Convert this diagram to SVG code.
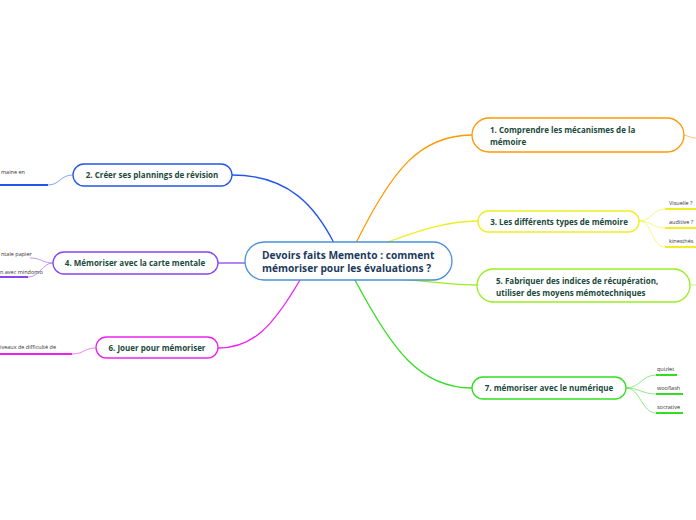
<svg xmlns="http://www.w3.org/2000/svg" width="696" height="520" viewBox="0 0 696 520">
<style>
.bg{fill:#fff}
.node{fill:#fff;stroke-width:1.3}
.t{font-family:"Open Sans","Noto Sans","Liberation Sans",sans-serif;font-weight:700;font-size:8px;fill:#1b4a3c}
.c{font-family:"Open Sans","Noto Sans","Liberation Sans",sans-serif;font-weight:700;font-size:10.2px;fill:#1d3a5c}
.s{font-family:"Open Sans","Noto Sans","Liberation Sans",sans-serif;font-size:5.5px;fill:#333}
.m{fill:none;stroke-width:1.3}
.k{fill:none;stroke-width:1;opacity:.55}
.u{fill:none;stroke-width:2}
</style>
<rect class="bg" width="696" height="520"/>
<g id="connectors">
<path class="m" stroke="#2255ee" d="M334 243 C316 208 290 175 232 175"/>
<path class="m" stroke="#ff9900" d="M356 243 C392 170 420 135 472 135"/>
<path class="m" stroke="#eeee22" d="M385 243 C420 230 448 221 478 221"/>
<path class="m" stroke="#99ee22" d="M400 279 C430 282 455 285 477 285"/>
<path class="m" stroke="#33dd22" d="M355 280 C392 350 420 388 472 388"/>
<path class="m" stroke="#ee22ee" d="M300 280 C272 328 252 348 218 348"/>
<path class="m" stroke="#8844ee" d="M245 263 L218 263"/>
<path class="k" stroke="#ff9900" d="M684 135 C688 136 692 138 696 138"/>
<path class="k" stroke="#99ee22" d="M690 285 L696 285"/>
<path class="k" stroke="#eeee22" d="M639 221 C652 221 652 209 665 209 M639 221 C652 221 652 228 665 228 M639 221 C652 221 652 247 665 247"/>
<path class="u" stroke="#eeee22" d="M665 209 H696 M665 228 H696 M665 247 H696"/>
<path class="k" stroke="#33dd22" d="M626 388 C640 388 642 375 656 375 M626 388 C640 388 642 394 656 394 M626 388 C640 388 642 413 656 413"/>
<path class="u" stroke="#33dd22" d="M656 375 H677 M656 394 H683 M656 413 H683"/>
<path class="k" stroke="#2255ee" d="M73 175 C60 175 60 185 48 185"/>
<path class="u" stroke="#2255ee" d="M0 185 H48"/>
<path class="k" stroke="#8844ee" d="M53 263 C42 263 42 258 30 258 M53 263 C42 263 40 277 28 277"/>
<path class="u" stroke="#8844ee" d="M0 277 H28"/>
<path class="k" stroke="#ee22ee" d="M96 348 C84 348 84 354 72 354"/>
<path class="u" stroke="#ee22ee" d="M0 354 H72"/>
</g>
<g id="center">
<rect class="node" x="245" y="242" width="207" height="38" rx="19" stroke="#4a90d9"/>
<text class="c" x="262" y="259">Devoirs faits Memento : comment</text>
<text class="c" x="262" y="272">mémoriser pour les évaluations ?</text>
</g>
<g id="n1">
<rect class="node" x="472" y="118" width="212" height="34" rx="17" stroke="#ff9900"/>
<text class="t" x="490" y="133">1. Comprendre les mécanismes de la</text>
<text class="t" x="490" y="145">mémoire</text>
</g>
<g id="n3">
<rect class="node" x="478" y="211" width="161" height="21" rx="10.5" stroke="#eeee22"/>
<text class="t" x="559" y="225" text-anchor="middle">3. Les différents types de mémoire</text>
</g>
<g id="n3a"><text class="s" x="669" y="205">Visuelle ?</text></g>
<g id="n3b"><text class="s" x="669" y="224">auditive ?</text></g>
<g id="n3c"><text class="s" x="669" y="243">kinesthés</text></g>
<g id="n5">
<rect class="node" x="477" y="269" width="213" height="33" rx="16.5" stroke="#99ee22"/>
<text class="t" x="496" y="284">5. Fabriquer des indices de récupération,</text>
<text class="t" x="496" y="296">utiliser des moyens mémotechniques</text>
</g>
<g id="n7">
<rect class="node" x="472" y="377" width="154" height="22" rx="11" stroke="#33dd22"/>
<text class="t" x="549" y="391" text-anchor="middle">7. mémoriser avec le numérique</text>
</g>
<g id="n7a"><text class="s" x="657" y="371">quizlet</text></g>
<g id="n7b"><text class="s" x="657" y="390">wooflash</text></g>
<g id="n7c"><text class="s" x="657" y="409">socrative</text></g>
<g id="n2">
<rect class="node" x="73" y="164" width="159" height="22" rx="11" stroke="#2255ee"/>
<text class="t" x="152" y="178" text-anchor="middle">2. Créer ses plannings de révision</text>
</g>
<g id="n2a"><text class="s" x="1" y="174">maine en</text></g>
<g id="n4">
<rect class="node" x="53" y="252" width="165" height="22" rx="11" stroke="#8844ee"/>
<text class="t" x="135" y="266" text-anchor="middle">4. Mémoriser avec la carte mentale</text>
</g>
<g id="n4a"><text class="s" x="1" y="256">ntale papier</text></g>
<g id="n4b"><text class="s" x="0" y="274">n avec mindomo</text></g>
<g id="n6">
<rect class="node" x="96" y="337" width="122" height="21" rx="10.5" stroke="#ee22ee"/>
<text class="t" x="157" y="351" text-anchor="middle">6. Jouer pour mémoriser</text>
</g>
<g id="n6a"><text class="s" x="0" y="349">iveaux de difficulté de</text></g>
</svg>
